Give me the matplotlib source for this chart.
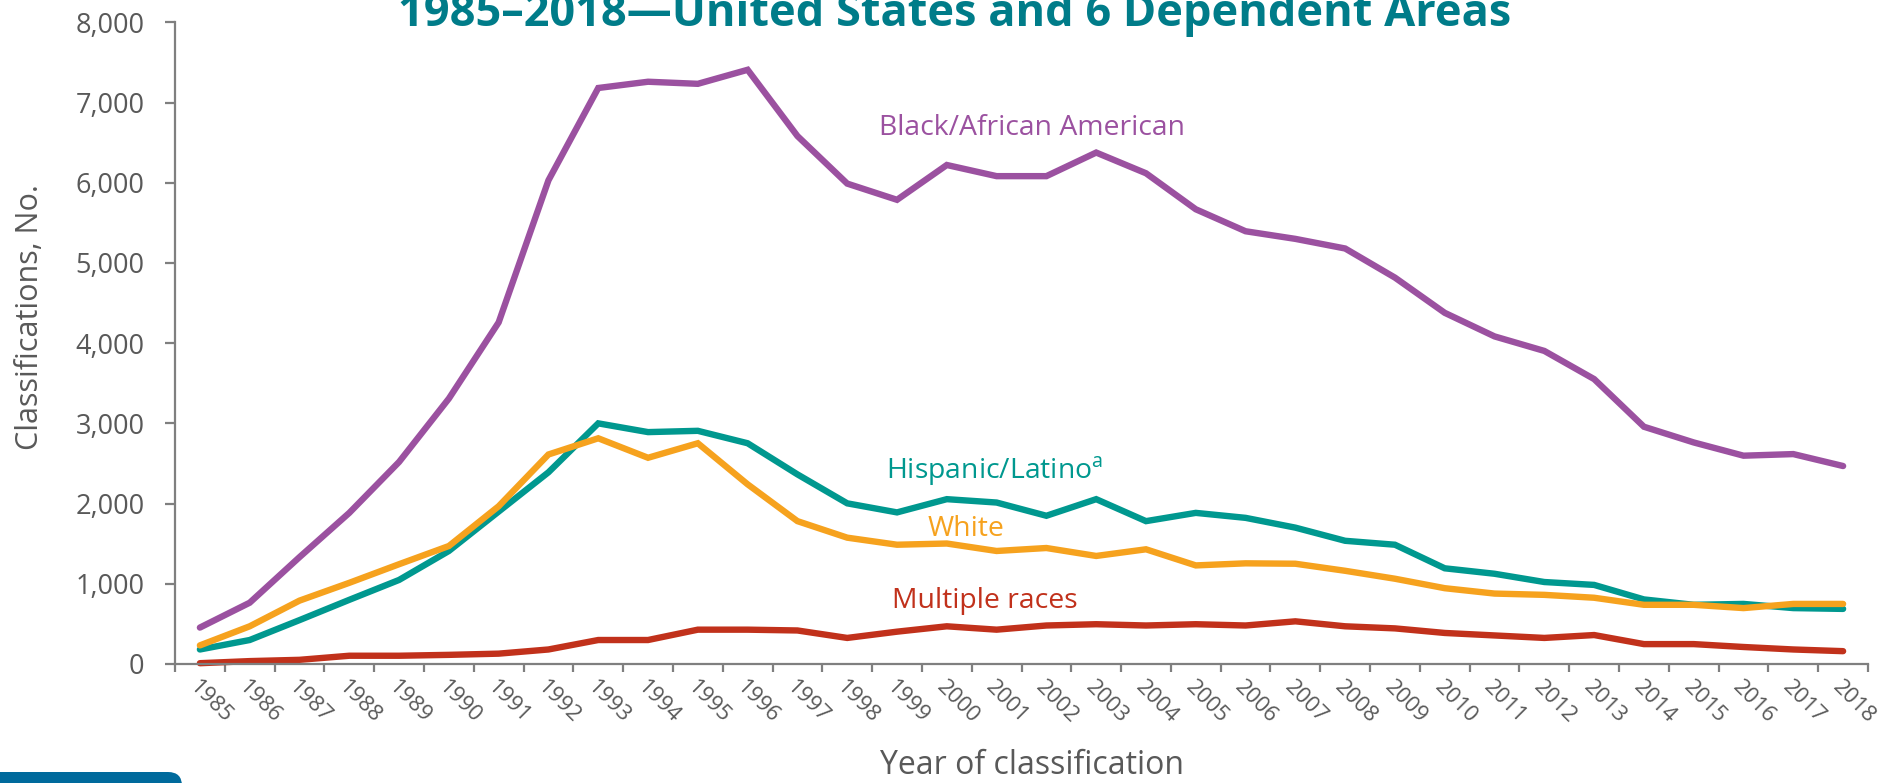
import matplotlib
matplotlib.use("Agg")
import matplotlib.pyplot as plt
from matplotlib.patches import FancyBboxPatch
from matplotlib.ticker import FuncFormatter, FixedLocator

plt.rcParams['font.family'] = ['Open Sans', 'DejaVu Sans']
plt.rcParams['mathtext.fontset'] = 'custom'
plt.rcParams['mathtext.rm'] = 'Open Sans'

# Data
years = list(range(1985, 2019))
black = [454, 764, 1332, 1884, 2519, 3309, 4259, 6030, 7181, 7259, 7233, 7408,
         6582, 5989, 5787, 6221, 6082, 6082, 6376, 6118, 5669, 5395, 5300, 5180,
         4817, 4378, 4084, 3903, 3552, 2958, 2762, 2597, 2617, 2468]
hispanic = [181, 299, 547, 800, 1048, 1409, 1900, 2390, 3000, 2891, 2907, 2752,
            2364, 2003, 1890, 2055, 2013, 1848, 2055, 1781, 1884, 1822, 1700, 1536,
            1487, 1193, 1125, 1022, 986, 805, 738, 749, 697, 687]
white = [232, 470, 790, 1012, 1244, 1471, 1967, 2612, 2814, 2571, 2752, 2240,
         1781, 1575, 1487, 1502, 1409, 1446, 1347, 1430, 1229, 1255, 1250, 1162,
         1063, 945, 878, 862, 826, 738, 738, 697, 749, 749]
multiple = [10, 36, 52, 103, 103, 114, 129, 181, 299, 299, 428, 428,
            418, 325, 403, 470, 428, 480, 496, 480, 496, 480, 532, 470,
            444, 387, 356, 325, 361, 248, 248, 212, 181, 160]

series = [
    ("Black/African American", black, '#9B51A0'),
    ("Hispanic/Latino$^{\\mathrm{a}}$", hispanic, '#00988F'),
    ("White", white, '#F6A21E'),
    ("Multiple races", multiple, '#C1311B'),
]
# label centre positions (x index, y value)
label_pos = [(16.71, 6680), (15.97, 2400), (15.38, 1680), (15.77, 780)]

W, H = 1887, 783
fig = plt.figure(figsize=(W / 100, H / 100), dpi=100)
fig.patch.set_facecolor('white')
ax = fig.add_axes([175 / W, 1 - 664 / H, (1868 - 175) / W, (664 - 22.3) / H])

xs = list(range(len(years)))
for (name, vals, col), (lx, ly) in zip(series, label_pos):
    ax.plot(xs, vals, color=col, lw=4.6, solid_capstyle='round',
            solid_joinstyle='miter', clip_on=False)
    ax.text(lx, ly, name, color=col, fontsize=20.4, ha='center', va='center')

ax.set_xlim(-0.5, len(years) - 0.5)
ax.set_ylim(0, 8000)

gray = '#7F7F7F'
for s in ['top', 'right']:
    ax.spines[s].set_visible(False)
for s in ['left', 'bottom']:
    ax.spines[s].set_color(gray)
    ax.spines[s].set_linewidth(1.6)

ax.yaxis.set_major_locator(FixedLocator(range(0, 8001, 1000)))
ax.yaxis.set_major_formatter(FuncFormatter(lambda v, p: f"{int(v):,}"))
ax.tick_params(axis='y', length=7, width=1.6, color=gray, pad=15,
               labelsize=19.5, labelcolor='#595959')

ax.set_xticks(xs)
ax.set_xticklabels([str(y) for y in years], rotation=-45, ha='left', va='top',
                   rotation_mode='anchor')
ax.set_xticks([i - 0.5 for i in range(len(years) + 1)], minor=True)
ax.tick_params(axis='x', which='major', length=0, pad=9, labelsize=16,
               labelcolor='#595959')
ax.tick_params(axis='x', which='minor', length=6, width=1.6, color=gray)

fig.text(30 / W, 1 - 317 / H, "Classifications, No.", fontsize=22, color='#595959',
         rotation=90, ha='center', va='center')
fig.text(1032 / W, 1 - 766 / H, "Year of classification", fontsize=23,
         color='#595959', ha='center', va='center')

# title, cropped at the top of the slide
fig.text(955 / W, 1 - 26 / H, "1985\u20132018\u2014United States and 6 Dependent Areas",
         fontsize=32.5, fontweight='bold', color='#007C89', ha='center', va='baseline')

# navigation button peeking in at the bottom-left corner
btn = FancyBboxPatch((-20, 772), 202, 60, boxstyle='round,pad=0,rounding_size=14',
                     facecolor='#006A9C', edgecolor='none')
btn.set_transform(matplotlib.transforms.Affine2D().scale(1, -1).translate(0, H))
fig.patches.append(btn)

fig.savefig('out.png', dpi=100, facecolor='white')
